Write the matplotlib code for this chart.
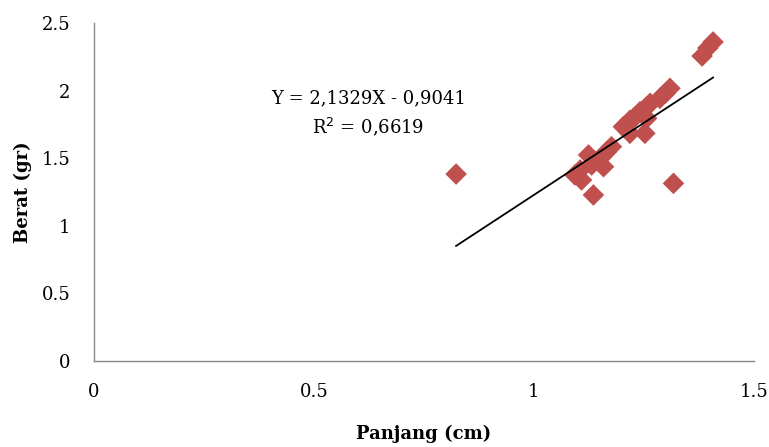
"""Scatter of Berat vs Panjang with linear trendline (Excel style)."""

import matplotlib

matplotlib.use("Agg")
import matplotlib.pyplot as plt
import numpy as np

plt.rcParams.update({"font.family": "serif",
                     "font.serif": ["DejaVu Serif", "Liberation Serif"],
                     "font.size": 13})

panjang = [0.823, 1.093, 1.105, 1.108, 1.124, 1.131, 1.135, 1.154, 1.158, 1.165,
           1.176, 1.203, 1.218, 1.218, 1.230, 1.241, 1.252, 1.256, 1.256, 1.264,
           1.286, 1.298, 1.309, 1.317, 1.382, 1.395, 1.407]
berat = [1.383, 1.376, 1.413, 1.339, 1.524, 1.450, 1.228, 1.511, 1.437, 1.548,
         1.585, 1.733, 1.780, 1.684, 1.807, 1.844, 1.684, 1.795, 1.880, 1.906,
         1.943, 1.980, 2.017, 1.314, 2.256, 2.315, 2.360]

slope, intercept = 2.1329, -0.9041
eq_text = "Y = 2,1329X - 0,9041\nR$^2$ = 0,6619"

x_ticks = [0, 0.5, 1, 1.5]
y_ticks = [0, 0.5, 1, 1.5, 2, 2.5]

fig = plt.figure(figsize=(7.69, 4.47), dpi=100)
ax = fig.add_axes([0.1222, 0.1924, 0.8583, 0.7561])

ax.scatter(panjang, berat, marker="D", s=11 ** 2, color="#C0504D",
           edgecolors="none", zorder=3)

xs = np.array([min(panjang), max(panjang)])
ax.plot(xs, slope * xs + intercept, color="black", lw=1.3, zorder=4)

ax.text(0.623, 1.83, eq_text, ha="center", va="center", fontsize=13,
        linespacing=1.45)

ax.set_xlim(0, 1.5)
ax.set_ylim(0, 2.5)
ax.set_xticks(x_ticks)
ax.set_xticklabels(["0", "0.5", "1", "1.5"])
ax.set_yticks(y_ticks)
ax.set_yticklabels(["0", "0.5", "1", "1.5", "2", "2.5"])
ax.tick_params(axis="x", length=0, pad=16)
ax.tick_params(axis="y", length=0, pad=17)

for s in ("top", "right"):
    ax.spines[s].set_visible(False)
for s in ("left", "bottom"):
    ax.spines[s].set_color("#868686")
    ax.spines[s].set_linewidth(1.0)

ax.set_xlabel("Panjang (cm)", fontweight="bold", fontsize=13, labelpad=17)
ax.set_ylabel("Berat (gr)", fontweight="bold", fontsize=13, labelpad=7)

fig.savefig("out.png", dpi=100)
